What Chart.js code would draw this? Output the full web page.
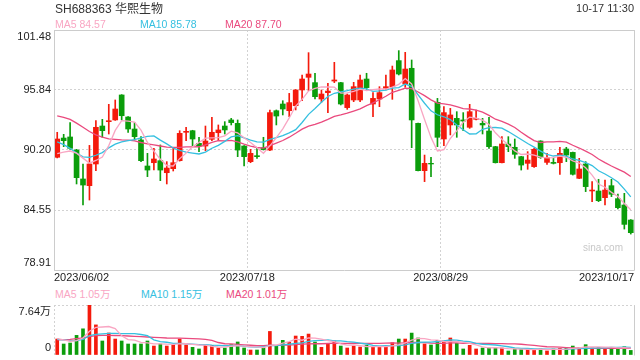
<!DOCTYPE html>
<html><head><meta charset="utf-8">
<script src="https://cdn.jsdelivr.net/npm/chart.js@4.4.0/dist/chart.umd.min.js"></script>
<style>
html,body{margin:0;padding:0;background:#fff;}
#wrap{position:relative;width:640px;height:360px;overflow:hidden;font-family:"Liberation Sans",Arial,"Noto Sans CJK SC",sans-serif;}
canvas{position:absolute;left:0;}
.t{position:absolute;white-space:nowrap;line-height:1;}
</style></head><body>
<div id="wrap">
<canvas id="k" width="640" height="286" style="top:0px"></canvas>
<canvas id="v" width="640" height="60" style="top:300px"></canvas>
<div class="t" style="left:55px;top:2.5px;font-size:12px;color:#333">SH688363 华熙生物</div>
<div class="t" style="right:6px;top:2.5px;font-size:11px;color:#333">10-17 11:30</div>
<div class="t" style="left:55px;top:19px;font-size:10.5px;color:#f9a6c3">MA5 84.57</div>
<div class="t" style="left:140px;top:19px;font-size:10.5px;color:#36c0e0">MA10 85.78</div>
<div class="t" style="left:225px;top:19px;font-size:10.5px;color:#ea4a7e">MA20 87.70</div>
<div class="t" style="left:55px;top:289px;font-size:10.5px;color:#f9a6c3">MA5 1.05万</div>
<div class="t" style="left:141px;top:289px;font-size:10.5px;color:#36c0e0">MA10 1.15万</div>
<div class="t" style="left:226px;top:289px;font-size:10.5px;color:#ea4a7e">MA20 1.01万</div>
<div class="t" style="left:583px;top:243px;font-size:10px;color:#c8c8c8">sina.com</div>
</div>
<script>
const priceTicks = [78.91, 84.55, 90.20, 95.84, 101.48];
const volTicks = [0, 7.64];
const xTickLabels = ['2023/06/02', '2023/07/18', '2023/08/29', '2023/10/17'];
const xTickPos = [-0.5, 29.5, 59.5, 89.5];

const opens = [89.51,91.32,91.42,90.19,87.47,86.84,88.88,92.45,92.86,93.02,
95.37,93.30,92.17,91.14,88.69,89.00,89.19,88.06,88.44,89.19,
91.86,92.01,90.82,90.57,91.20,91.82,92.45,93.02,92.70,90.57,
89.10,89.66,90.41,90.19,93.89,94.52,93.89,94.36,95.84,97.03,
96.53,94.99,95.59,96.68,96.53,94.18,94.90,94.90,96.87,94.52,
94.99,95.99,96.15,98.60,96.40,97.88,92.70,88.25,88.94,94.68,
91.23,92.55,93.17,93.02,92.33,93.08,92.70,91.98,90.51,89.00,
90.76,90.45,89.57,88.94,88.63,91.04,89.03,89.03,89.00,90.29,
89.97,87.53,88.88,86.34,86.34,85.71,86.84,85.62,85.02,83.61];
const highs = [91.86,91.67,92.77,90.26,88.88,90.63,92.95,93.08,94.49,94.90,
95.40,93.33,92.77,91.45,89.88,90.35,90.67,89.10,90.35,92.01,
92.33,92.05,91.39,92.45,93.27,92.55,92.86,93.17,93.02,90.62,
90.26,90.45,91.39,93.96,93.96,94.83,95.52,95.88,97.25,99.35,
97.41,95.84,96.46,98.44,96.56,95.46,96.56,97.25,97.41,95.59,
96.15,97.25,98.09,99.54,99.38,98.66,92.73,89.72,89.50,95.05,
94.27,94.11,93.80,93.71,94.49,93.96,93.17,93.27,90.54,91.45,
91.45,91.23,89.60,90.04,90.35,91.07,89.88,89.41,90.45,90.45,
90.00,89.41,89.10,87.22,87.44,87.37,87.44,86.06,86.12,83.65];
const lows = [89.45,90.51,90.26,87.00,85.02,85.49,88.25,91.39,91.70,92.98,
93.02,91.86,91.14,89.10,87.69,88.31,87.31,87.00,88.22,89.15,
91.07,90.57,90.04,90.13,91.07,91.07,91.70,92.55,89.57,88.69,
89.00,89.41,90.19,90.13,92.55,93.49,93.33,93.96,94.83,95.77,
94.99,94.68,93.71,96.53,94.43,94.02,94.74,94.74,95.90,93.33,
94.27,95.84,94.96,97.25,96.09,90.41,88.22,87.22,87.69,90.51,
90.60,91.61,91.39,92.01,92.23,93.02,91.70,90.35,88.97,88.97,
90.04,89.41,88.31,88.38,88.56,89.41,88.85,88.88,87.91,89.10,
87.84,87.50,86.28,85.34,85.34,85.02,85.81,84.65,82.76,82.29];
const closes = [91.23,91.07,90.35,87.59,86.90,88.88,92.33,92.01,92.95,94.05,
93.42,92.17,91.45,89.19,88.31,89.35,88.31,88.50,89.00,91.76,
91.95,91.23,90.57,91.04,91.86,92.08,92.08,92.77,90.19,89.57,
89.88,89.57,90.23,93.71,93.39,94.05,94.65,95.84,96.87,97.34,
95.21,95.46,95.74,96.78,94.52,95.37,96.15,96.78,96.06,95.05,
95.59,96.15,97.72,97.34,97.81,93.02,88.25,88.94,88.88,91.39,
93.71,93.49,92.55,92.92,93.80,93.17,92.55,90.51,89.00,90.76,
90.51,89.79,88.78,89.25,90.26,89.50,89.47,88.94,89.88,89.72,
87.91,88.41,86.75,86.43,85.43,86.43,86.03,84.77,83.20,82.42];
const ma5 = [89.85,90.00,90.10,89.90,89.43,88.96,89.21,89.54,90.61,92.04,
92.95,92.92,92.81,92.06,90.91,90.09,89.32,88.73,88.69,89.38,
89.90,90.49,90.90,91.31,91.33,91.36,91.53,91.97,91.80,91.34,
90.90,90.40,89.89,90.59,91.36,92.19,93.21,94.33,94.96,95.75,
95.98,96.14,96.12,96.11,95.54,95.57,95.71,95.92,95.78,95.88,
95.93,95.93,96.11,96.37,96.92,96.41,94.83,93.07,91.38,90.10,
90.23,91.28,92.00,92.81,93.29,93.19,93.00,92.59,91.81,91.20,
90.67,90.11,89.77,89.82,89.72,89.52,89.45,89.48,89.61,89.50,
89.18,88.97,88.53,87.84,86.99,86.69,86.21,85.82,85.17,84.57];
const ma10 = [90.95,90.70,90.35,89.90,89.55,89.50,89.70,89.95,90.40,90.74,
90.96,91.07,91.18,91.34,91.48,91.52,91.12,90.77,90.38,90.15,
90.00,89.91,89.82,90.00,90.36,90.63,91.01,91.43,91.55,91.33,
91.13,90.96,90.93,91.19,91.35,91.54,91.80,92.11,92.78,93.55,
94.09,94.68,95.23,95.53,95.65,95.78,95.93,96.02,95.94,95.71,
95.75,95.82,96.02,96.07,96.40,96.17,95.38,94.59,93.88,93.51,
93.32,93.06,92.54,92.10,91.70,91.71,92.14,92.30,92.31,92.25,
91.93,91.56,91.18,90.81,90.46,90.09,89.78,89.63,89.71,89.61,
89.35,89.21,89.01,88.73,88.24,87.94,87.59,87.18,86.51,85.78];
const ma20 = [93.40,93.27,93.08,92.72,92.33,91.93,91.62,91.40,91.25,91.20,
91.15,91.12,91.05,90.90,90.77,90.68,90.57,90.47,90.45,90.44,
90.48,90.49,90.50,90.67,90.92,91.08,91.06,91.10,90.96,90.74,
90.56,90.43,90.37,90.60,90.85,91.09,91.40,91.77,92.16,92.44,
92.61,92.82,93.08,93.36,93.50,93.66,93.86,94.07,94.36,94.63,
94.92,95.25,95.62,95.80,96.02,95.97,95.65,95.31,94.91,94.61,
94.54,94.44,94.28,94.08,94.05,93.94,93.76,93.45,93.09,92.88,
92.62,92.31,91.86,91.45,91.08,90.90,90.96,90.96,91.01,90.93,
90.64,90.38,90.09,89.77,89.35,89.01,88.69,88.40,88.11,87.70];
const vols = [2.44,1.68,1.83,3.00,4.00,7.64,4.60,2.14,3.36,2.44,
2.14,1.68,1.68,1.68,2.14,1.37,1.68,1.37,1.58,2.44,
1.53,1.17,0.92,1.48,1.48,1.07,1.07,1.58,1.99,1.07,
0.76,0.76,1.07,3.60,1.37,2.24,1.94,2.90,2.85,3.20,
1.99,1.17,1.78,2.14,1.37,1.07,1.37,1.22,1.48,1.22,
1.22,1.22,1.88,2.44,2.44,3.35,2.60,1.68,1.53,2.24,
2.14,2.60,1.78,0.92,1.48,0.92,1.07,1.07,1.07,1.07,
0.61,0.92,0.85,0.92,0.85,0.92,0.62,0.92,1.02,1.07,
1.37,1.07,1.58,1.07,1.16,1.07,1.14,1.07,1.27,0.70];
const volMa5 = [2.50,2.30,2.10,2.20,2.59,3.63,4.21,4.28,4.35,4.03,
2.93,2.35,2.26,1.92,1.86,1.71,1.71,1.65,1.63,1.69,
1.72,1.62,1.53,1.51,1.32,1.22,1.20,1.34,1.44,1.36,
1.29,1.23,1.13,1.46,1.52,1.81,2.05,2.41,2.26,2.63,
2.58,2.42,2.20,2.06,1.69,1.51,1.55,1.43,1.30,1.27,
1.30,1.27,1.40,1.60,1.84,2.27,2.55,2.51,2.32,2.28,
2.04,2.04,2.06,1.94,1.78,1.54,1.23,1.09,1.12,1.04,
0.98,0.95,0.90,0.87,0.83,0.89,0.83,0.85,0.87,0.91,
1.00,1.09,1.22,1.23,1.25,1.19,1.20,1.10,1.14,1.05];
const volMa10 = [2.40,2.30,2.20,2.20,2.37,2.97,3.14,3.24,3.29,3.31,
3.28,3.28,3.27,3.13,2.95,2.32,2.03,1.95,1.78,1.78,
1.72,1.66,1.59,1.57,1.50,1.47,1.41,1.43,1.47,1.34,
1.26,1.22,1.23,1.45,1.44,1.55,1.64,1.77,1.86,2.07,
2.19,2.24,2.31,2.16,2.16,2.04,1.98,1.82,1.68,1.48,
1.40,1.41,1.42,1.45,1.56,1.79,1.91,1.96,1.96,2.06,
2.15,2.29,2.28,2.13,2.03,1.79,1.64,1.58,1.53,1.41,
1.26,1.09,1.00,1.00,0.94,0.94,0.89,0.88,0.87,0.87,
0.95,0.96,1.03,1.05,1.08,1.10,1.15,1.16,1.19,1.15];
const volMa20 = [2.30,2.35,2.40,2.50,2.60,2.80,2.95,3.00,3.00,2.98,
2.95,2.90,2.85,2.80,2.75,2.70,2.65,2.60,2.58,2.57,
2.53,2.50,2.46,2.38,2.24,1.91,1.72,1.69,1.62,1.56,
1.49,1.44,1.41,1.50,1.46,1.51,1.52,1.60,1.66,1.70,
1.72,1.72,1.76,1.80,1.79,1.79,1.81,1.79,1.76,1.77,
1.79,1.82,1.86,1.80,1.86,1.91,1.94,1.88,1.81,1.77,
1.77,1.85,1.85,1.78,1.79,1.78,1.77,1.76,1.74,1.73,
1.70,1.69,1.64,1.56,1.48,1.36,1.26,1.23,1.20,1.14,
1.10,1.03,1.02,1.02,1.01,1.02,1.02,1.02,1.03,1.01];

const FONT = '"Liberation Sans", Arial, "Noto Sans CJK SC", sans-serif';
const UP = '#f41a0c', DOWN = '#0b9d0b';
const C5 = '#f9a6c3', C10 = '#36c0e0', C20 = '#ea4a7e';
const GRID = '#d2d2d2', FRAME = '#cccccc';
const colors = closes.map((c, i) => c >= opens[i] ? UP : DOWN);
const pts = arr => arr.map((y, i) => ({x: i, y: y}));

const framePlugin = {
  id: 'frame',
  afterDraw(chart, args, opts) {
    const {ctx, chartArea: a} = chart;
    ctx.save();
    ctx.strokeStyle = FRAME; ctx.lineWidth = 1; ctx.setLineDash([]);
    const l = Math.round(a.left) + 0.5, r = Math.round(a.right) + 0.5;
    const t = Math.round(a.top) + 0.5, b = Math.round(a.bottom) + 0.5;
    ctx.beginPath();
    if (opts.full) { ctx.moveTo(l, t); ctx.lineTo(r, t); ctx.lineTo(r, b); ctx.lineTo(l, b); ctx.closePath(); }
    else { ctx.moveTo(r, t); ctx.lineTo(r, b); }
    ctx.stroke();
    ctx.restore();
  }
};

function xScale(showLabels) {
  return {
    type: 'linear', min: -0.5, max: 89.5, offset: false, bounds: 'data',
    afterBuildTicks: s => { s.ticks = xTickPos.map(v => ({value: v})); },
    afterFit: s => { s.height = showLabels ? 16 : 0; s.paddingLeft = 0; s.paddingRight = 0; },
    grid: {offset: false, color: GRID, lineWidth: 1, drawTicks: false},
    border: {display: false, dash: [2, 2]},
    ticks: {display: showLabels, autoSkip: false, maxRotation: 0, minRotation: 0, align: 'inner',
      padding: 1.5, color: '#222', font: {family: FONT, size: 11},
      callback: (v, i) => xTickLabels[i]}
  };
}
function yScale(min, max, tickVals, fmt, hideBottomGrid) {
  return {
    type: 'linear', min: min, max: max, bounds: 'data',
    afterBuildTicks: s => { s.ticks = tickVals.map(v => ({value: v})); },
    afterFit: s => { s.width = 54; s.paddingTop = 0; s.paddingBottom = 0; },
    grid: {drawTicks: false, lineWidth: 1,
      color: ctx => (hideBottomGrid && ctx.index === 0) ? 'rgba(0,0,0,0)' : GRID},
    border: {display: false, dash: [2, 2]},
    ticks: {padding: 3, color: '#222', font: {family: FONT, size: 11},
      callback: (v, i, t) => {
        const s = fmt(v, i);
        if (i === t.length - 1) return ['', s];
        if (i === 0) return [s, ''];
        return s;
      }}
  };
}
const common = {
  responsive: false, animation: false, devicePixelRatio: 1, events: [],
  plugins: {legend: {display: false}, tooltip: {enabled: false}}
};
function line(data, color, order) {
  return {type: 'line', data: pts(data), borderColor: color, borderWidth: 1.3, pointRadius: 0,
    fill: false, tension: 0, order: order};
}

new Chart(document.getElementById('k'), {
  type: 'bar',
  data: {datasets: [
    line(ma5, C5, 0), line(ma10, C10, 0), line(ma20, C20, 0),
    {type: 'bar', data: opens.map((o, i) => ({x: i, y: [o, closes[i]]})), backgroundColor: colors,
      barThickness: 5, grouped: false, borderWidth: 0, order: 1},
    {type: 'bar', data: lows.map((l, i) => ({x: i, y: [l, highs[i]]})), backgroundColor: colors,
      barThickness: 1, grouped: false, borderWidth: 0, order: 2}
  ]},
  options: Object.assign({}, common, {
    layout: {padding: {top: 30, right: 6, left: 0, bottom: 0}},
    scales: {
      x: xScale(true),
      y: yScale(78.91, 101.48, priceTicks, v => v.toFixed(2), false)
    },
    plugins: Object.assign({}, common.plugins, {frame: {full: true}})
  }),
  plugins: [framePlugin]
});

new Chart(document.getElementById('v'), {
  type: 'bar',
  data: {datasets: [
    line(volMa5, C5, 0), line(volMa10, C10, 0), line(volMa20, C20, 0),
    {type: 'bar', data: pts(vols), backgroundColor: colors, barThickness: 3, grouped: false,
      borderWidth: 0, order: 1}
  ]},
  options: Object.assign({}, common, {
    layout: {padding: {top: 5, right: 6, left: 0, bottom: 5}},
    scales: {
      x: xScale(false),
      y: yScale(0, 7.64, volTicks, (v, i) => i === 0 ? '0' : v.toFixed(2) + '万', true)
    },
    plugins: Object.assign({}, common.plugins, {frame: {full: false}})
  }),
  plugins: [framePlugin]
});
</script>
</body></html>
